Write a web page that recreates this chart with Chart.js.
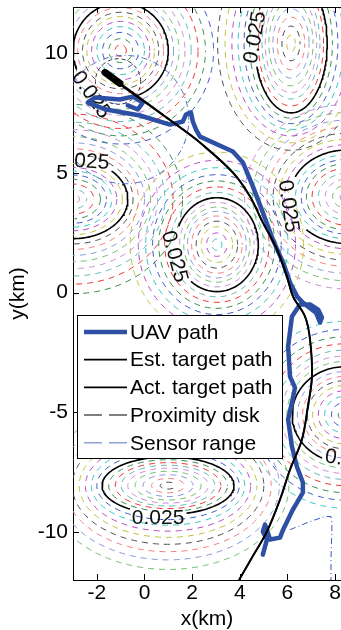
<!DOCTYPE html>
<html><head><meta charset="utf-8">
<script src="https://cdn.jsdelivr.net/npm/chart.js@4"></script>
<style>html,body{margin:0;padding:0;background:#fff;overflow:hidden}</style>
</head><body>
<canvas id="c" width="341" height="630" style="display:block;width:341px;height:630px"></canvas>
<script>
// ---------- axes ----------
const xTicks = [-2, 0, 2, 4, 6, 8];
const yTicks = [-10, -5, 0, 5, 10];
const xRange = [-3, 8.25];
const yRange = [-12, 11.92];

// ---------- UAV path (km) ----------
const uavX = [4.97,5.14,4.97,5.06,5.14,5.27,5.69,5.82,6.23,6.65,6.65,6.40,6.19,6.03,6.19,6.32,6.11,6.03,6.19,6.53,6.95,7.29,7.45,7.37,7.20,6.65,6.41,6.11,5.82,5.39,4.97,4.55,4.13,3.71,2.33,2.16,2.03,1.95,1.74,1.61,1.07,-0.19,-1.62,-2.38,-2.08,-1.03,-0.49,-0.07,-0.28,-0.70];
const uavY = [-10.94,-10.31,-9.98,-9.69,-9.90,-10.31,-10.23,-9.90,-9.06,-8.35,-7.93,-7.27,-6.43,-5.30,-4.59,-3.97,-3.51,-2.25,-1.00,-0.50,-0.50,-0.71,-1.04,-1.25,-0.84,-0.42,-0.17,0.42,1.25,2.21,3.34,4.43,5.43,5.89,6.51,6.81,7.14,7.52,7.43,7.14,7.01,7.39,7.64,7.93,8.14,8.06,8.18,7.93,7.64,7.81];

// ---------- target paths (km) ----------
const actX = [3.97,4.55,5.14,5.69,6.11,6.61,6.86,7.03,6.95,6.74,6.24,5.98,5.56,4.97,4.43,3.71,2.33,1.61,-1.33];
const actY = [-12.0,-11.0,-9.98,-8.64,-7.39,-6.14,-4.76,-3.51,-1.96,-1.00,-0.17,0.67,1.80,2.92,4.01,5.01,6.26,6.81,8.89];
const estX = [3.97,4.55,5.14,5.69,6.11,6.61,6.86,7.03,6.95,6.74,6.24,5.98,5.56,4.97,4.43,3.71,2.33,1.61,-1.03];
const estY = [-12.0,-11.0,-9.98,-8.64,-7.39,-6.14,-4.76,-3.51,-1.96,-1.00,-0.17,0.67,1.80,2.92,4.01,5.01,6.26,6.81,8.73];
const headX = [-1.66, -1.03];
const headY = [9.19, 8.73];

// ---------- proximity disk / sensor range ----------
const proxCenter = [-1.11, 8.81], proxRadius = 0.95;
const sensorCenter = [-0.82, 7.22], sensorRadius = 2.68;
const sensor2X = [6.11,6.95,7.58,7.83,7.87,7.83,7.83];
const sensor2Y = [-9.90,-9.56,-9.35,-9.35,-9.69,-11.15,-12.0];

// ---------- objective-field contours ----------
const peakX  = [-1.0, 6.15, -3.0, 3.04, 8.5, 8.4, 0.99];
const peakY  = [10.1, 10.4, 3.9, 2.0, 4.0, -5.1, -8.06];
const peakRx = [2.0, 1.52, 2.3, 1.74, 2.4, 2.2, 2.77];   // 0.025 level
const peakRy = [2.0, 2.9, 1.65, 1.96, 1.95, 2.0, 1.2];
const ringInner = [0.12, 0.25, 0.38, 0.5, 0.61, 0.71, 0.8, 0.9];
const ringOuter = [0.22, 0.45, 0.7, 0.96, 1.25, 1.56, 1.9, 2.3];
const ringOuterCount = [7, 6, 8, 7, 7, 7, 8];
const ringColors = ['#e8322e','#2e8b47','#3556c2','#33c3c3','#b548c4','#c2bf3a','#4a4a4a','#f47a7a','#8496dc','#6cbf6c','#c98bd6','#5fb8b0'];
const levelText = '0.025';
const labelX   = [-2.25, 4.65, -2.58, 1.25, 6.03, 8.67, 0.57];
const labelY   = [8.25, 10.65, 5.47, 1.5, 3.6, -7.0, -9.4];
const labelRot = [55, -80, 4, 75, 82, 8, 0];

// ---------- legend ----------
const legendLabels = ['UAV path', 'Est. target path', 'Act. target path', 'Proximity disk', 'Sensor range'];

const FONT = "'Liberation Sans', Arial, Helvetica, sans-serif";
const uavColor = '#2d50a5';

function zip(xs, ys) { return xs.map((x, i) => ({x, y: ys[i]})); }
function ellipse(cx, cy, rx, ry, gaps) {
  const per = 2 * Math.PI * Math.sqrt((rx * rx + ry * ry) / 2);
  const n = Math.max(24, Math.round(per * 12));
  const pts = [];
  for (let i = 0; i <= n; i++) {
    const t = i / n * 2 * Math.PI;
    const x = cx + rx * Math.cos(t), y = cy + ry * Math.sin(t);
    let hide = false;
    if (gaps) for (const g of gaps) if (Math.hypot(x - g[0], y - g[1]) < g[2]) hide = true;
    pts.push({x, y: hide ? null : y});
  }
  return pts;
}

const datasets = [];
const common = {showLine: true, pointRadius: 0, pointHoverRadius: 0, fill: false, tension: 0};

datasets.push(Object.assign({}, common, {label: legendLabels[0], data: zip(uavX, uavY), borderColor: uavColor, borderWidth: 4.5, borderJoinStyle: 'round', borderCapStyle: 'round', order: 4}));
datasets.push(Object.assign({}, common, {label: legendLabels[1], data: zip(estX, estY), borderColor: '#000', borderWidth: 2, tension: 0.35, order: 2}));
datasets.push(Object.assign({}, common, {label: legendLabels[2], data: zip(actX, actY), borderColor: '#000', borderWidth: 1.5, tension: 0.35, order: 3}));
datasets.push(Object.assign({}, common, {label: 'target', data: zip(headX, headY), borderColor: '#000', borderWidth: 7, borderCapStyle: 'round', order: 1}));
datasets.push(Object.assign({}, common, {label: legendLabels[3], data: ellipse(proxCenter[0], proxCenter[1], proxRadius, proxRadius), borderColor: '#333', borderWidth: 1, borderDash: [4, 3], order: 6}));
datasets.push(Object.assign({}, common, {label: legendLabels[4], data: ellipse(sensorCenter[0], sensorCenter[1], sensorRadius, sensorRadius), borderColor: '#4a68c8', borderWidth: 1, borderDash: [6, 3, 1, 3], order: 6}));
datasets.push(Object.assign({}, common, {label: 'sensor2', data: zip(sensor2X, sensor2Y), borderColor: '#3556c2', borderWidth: 1, borderDash: [6, 3, 1, 3], order: 6}));

const gaps = labelX.map((x, i) => [x, labelY[i], 1.2]);
for (let p = 0; p < peakX.length; p++) {
  datasets.push(Object.assign({}, common, {label: 'c' + p, isContour: true, data: ellipse(peakX[p], peakY[p], peakRx[p], peakRy[p], gaps), borderColor: '#000', borderWidth: 1.6, order: 8}));
  let k = 0;
  ringInner.forEach(s => {
    datasets.push(Object.assign({}, common, {label: 'r', data: ellipse(peakX[p], peakY[p], peakRx[p] * s, peakRy[p] * s), borderColor: ringColors[(k + p * 5) % ringColors.length], borderWidth: 1, borderDash: [6, 5], borderDashOffset: (k * 3 + p) % 11, order: 10}));
    k++;
  });
  ringOuter.slice(0, ringOuterCount[p]).forEach(d => {
    datasets.push(Object.assign({}, common, {label: 'r', data: ellipse(peakX[p], peakY[p], peakRx[p] + d, peakRy[p] + d), borderColor: ringColors[(k + p * 5) % ringColors.length], borderWidth: 1, borderDash: [6, 5], borderDashOffset: (k * 3 + p) % 11, order: 10}));
    k++;
  });
}

let labelsDrawn = false;
const extras = {
  id: 'extras',
  beforeDatasetsDraw() { labelsDrawn = false; },
  beforeDatasetDraw(chart, args) {
    const ds = chart.data.datasets[args.index];
    if (!ds.isContour || labelsDrawn) return;
    labelsDrawn = true;
    const ctx = chart.ctx, ca = chart.chartArea, xs = chart.scales.x, ys = chart.scales.y;
    ctx.save();
    ctx.beginPath(); ctx.rect(ca.left, ca.top, ca.right - ca.left, ca.bottom - ca.top); ctx.clip();
    ctx.font = '21px ' + FONT; ctx.fillStyle = '#111'; ctx.textAlign = 'center'; ctx.textBaseline = 'middle';
    labelX.forEach((x, i) => {
      ctx.save();
      ctx.translate(xs.getPixelForValue(x), ys.getPixelForValue(labelY[i]));
      ctx.rotate(labelRot[i] * Math.PI / 180);
      ctx.fillText(levelText, 0, 0);
      ctx.restore();
    });
    ctx.restore();
  },
  afterDraw(chart) {
    const ctx = chart.ctx, ca = chart.chartArea, xs = chart.scales.x, ys = chart.scales.y;
    ctx.save();
    ctx.strokeStyle = '#000'; ctx.lineWidth = 1;
    ctx.beginPath();
    ctx.moveTo(ca.left, ca.top + 0.5); ctx.lineTo(ca.right, ca.top + 0.5);
    xTicks.forEach(v => {
      const px = Math.round(xs.getPixelForValue(v)) + 0.5;
      ctx.moveTo(px, ca.bottom); ctx.lineTo(px, ca.bottom - 6);
      ctx.moveTo(px, ca.top); ctx.lineTo(px, ca.top + 6);
    });
    yTicks.forEach(v => {
      const py = Math.round(ys.getPixelForValue(v)) + 0.5;
      ctx.moveTo(ca.left, py); ctx.lineTo(ca.left + 6, py);
    });
    ctx.stroke();
    // legend
    const bx = 77, by = 315, bw = 205, bh = 143;
    ctx.fillStyle = '#fff'; ctx.fillRect(bx, by, bw, bh);
    ctx.strokeStyle = '#000'; ctx.lineWidth = 1; ctx.strokeRect(bx + 0.5, by + 0.5, bw, bh);
    const styles = [
      {c: uavColor, w: 4.5, d: []},
      {c: '#000', w: 1.8, d: []},
      {c: '#000', w: 1.8, d: []},
      {c: '#555', w: 1.5, d: [18, 7]},
      {c: '#8ea2d8', w: 1.5, d: [18, 7]}
    ];
    ctx.font = '21px ' + FONT; ctx.textAlign = 'left'; ctx.textBaseline = 'middle';
    legendLabels.forEach((t, i) => {
      const y = by + 17 + i * 27.7;
      const s = styles[i];
      ctx.beginPath(); ctx.setLineDash(s.d); ctx.strokeStyle = s.c; ctx.lineWidth = s.w;
      ctx.moveTo(84, y); ctx.lineTo(127, y); ctx.stroke();
      ctx.setLineDash([]);
      ctx.fillStyle = '#000'; ctx.fillText(t, 130, y + 1);
    });
    ctx.restore();
  }
};

new Chart(document.getElementById('c'), {
  type: 'scatter',
  data: {datasets},
  plugins: [extras],
  options: {
    responsive: false, animation: false, devicePixelRatio: 1,
    layout: {padding: {top: 7, right: 0, left: 0, bottom: 0}},
    plugins: {legend: {display: false}, tooltip: {enabled: false}},
    events: [],
    scales: {
      x: {
        type: 'linear', position: 'bottom', min: xRange[0], max: xRange[1],
        grid: {display: false, drawTicks: false},
        border: {display: true, color: '#000', width: 1},
        ticks: {color: '#000', font: {family: FONT, size: 21}, padding: 1},
        title: {display: true, text: 'x(km)', color: '#000', font: {family: FONT, size: 21, lineHeight: 1.0}, padding: {top: 0, bottom: 0}},
        afterBuildTicks: s => { s.ticks = xTicks.map(v => ({value: v})); },
        afterFit: s => { s.height = 50; s.paddingLeft = 0; s.paddingRight = 0; }
      },
      y: {
        type: 'linear', position: 'left', min: yRange[0], max: yRange[1],
        grid: {display: false, drawTicks: false},
        border: {display: true, color: '#000', width: 1},
        ticks: {color: '#000', font: {family: FONT, size: 21}, padding: 5},
        title: {display: true, text: 'y(km)', color: '#000', font: {family: FONT, size: 21, lineHeight: 1.0}, padding: {top: 8, bottom: 0}},
        afterBuildTicks: s => { s.ticks = yTicks.map(v => ({value: v})); },
        afterFit: s => { s.width = 73; s.paddingTop = 0; s.paddingBottom = 0; }
      }
    }
  }
});
</script>
</body></html>
